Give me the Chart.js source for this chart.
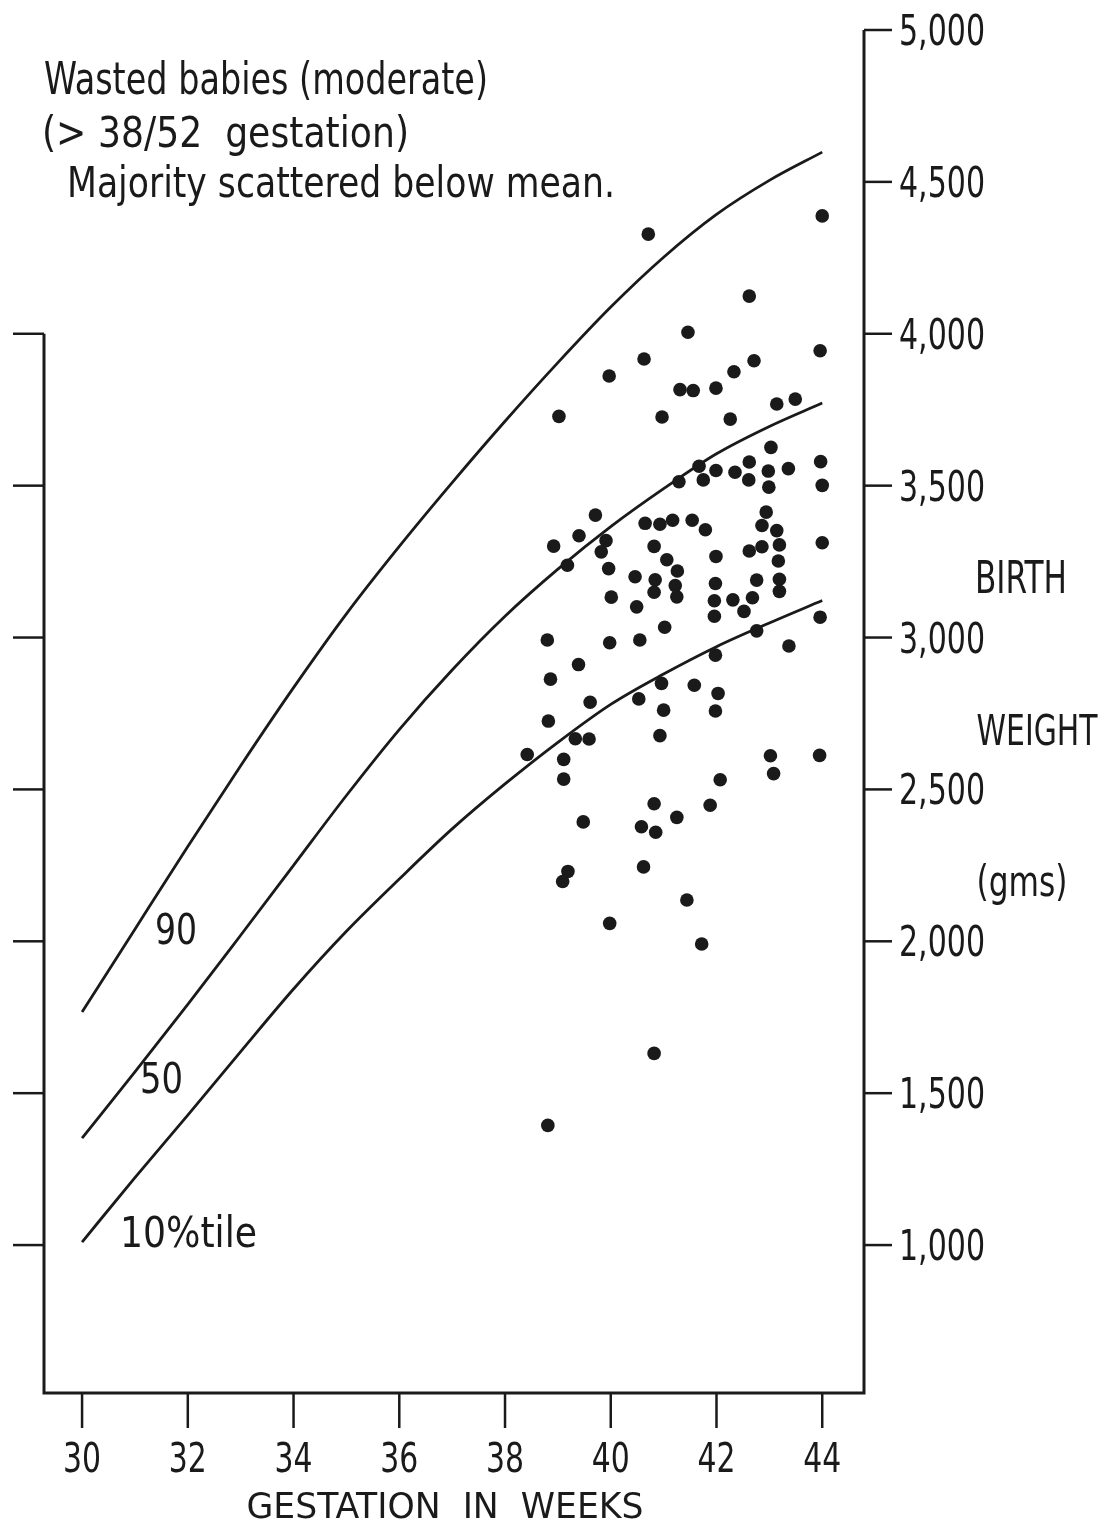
<!DOCTYPE html>
<html>
<head>
<meta charset="utf-8">
<script src="https://cdn.jsdelivr.net/npm/chart.js@4.4.1/dist/chart.umd.min.js"></script>
<style>
  html, body { margin: 0; padding: 0; background: #fff; }
</style>
</head>
<body>
<canvas id="myChart" width="1109" height="1527"></canvas>
<script>
// percentile curves (weeks -> grams)
var curveWeeks = [30, 31, 32, 33, 34, 35, 36, 37, 38, 39, 40, 41, 42, 43, 44];
var p90 = [1767, 2040, 2312, 2578, 2835, 3078, 3300, 3510, 3712, 3905, 4088, 4252, 4393, 4505, 4598];
var p50 = [1352, 1570, 1792, 2020, 2250, 2480, 2697, 2893, 3070, 3225, 3365, 3490, 3605, 3695, 3772];
var p10 = [1010, 1222, 1428, 1637, 1843, 2033, 2205, 2370, 2518, 2655, 2780, 2880, 2970, 3048, 3122];

// wasted babies
var babyWeeks = [
    41.46, 43.96, 40.63, 42.71, 39.97, 42.33, 41.31, 41.56, 41.99, 39.02,
    40.97, 42.26, 43.14, 43.49, 43.03, 42.62, 43.97, 41.67, 41.99, 42.35,
    42.98, 43.36, 41.29, 41.75, 42.61, 42.99, 44.00, 39.71, 39.40, 38.92,
    40.65, 40.93, 41.17, 41.54, 41.79, 42.94, 42.86, 43.14, 39.91, 39.82,
    40.82, 41.06, 41.99, 42.86, 42.62, 43.19, 44.00, 39.18, 39.96, 41.26,
    43.17, 40.46, 40.84, 41.22, 41.98, 42.76, 43.19, 40.82, 41.25, 40.01,
    41.96, 42.31, 42.68, 43.19, 40.49, 42.52, 41.96, 43.96, 41.02, 42.76,
    38.80, 39.98, 40.55, 43.37, 41.98, 39.39, 38.86, 40.96, 41.58, 42.03,
    39.61, 40.53, 41.00, 41.98, 38.82, 39.33, 39.59, 40.93, 38.42, 39.11,
    39.11, 43.02, 43.95, 43.08, 42.07, 40.82, 41.88, 41.25, 39.48, 40.58,
    40.85, 39.19, 39.09, 40.62, 41.44, 39.98, 41.72, 40.82, 38.81, 40.71,
    42.62, 44.00
];
var babyWeights = [
    4005, 3944, 3917, 3911, 3861, 3875, 3816, 3813, 3821, 3728,
    3726, 3719, 3769, 3785, 3626, 3578, 3579, 3564, 3550, 3544,
    3548, 3556, 3513, 3519, 3519, 3495, 3501, 3403, 3335, 3301,
    3376, 3373, 3386, 3386, 3355, 3413, 3369, 3352, 3319, 3282,
    3300, 3256, 3267, 3299, 3285, 3305, 3312, 3238, 3227, 3219,
    3252, 3200, 3190, 3171, 3178, 3189, 3192, 3149, 3134, 3133,
    3121, 3124, 3131, 3152, 3101, 3086, 3070, 3067, 3034, 3022,
    2992, 2983, 2992, 2972, 2942, 2911, 2863, 2849, 2843, 2816,
    2787, 2798, 2761, 2758, 2725, 2667, 2666, 2677, 2615, 2599,
    2534, 2611, 2612, 2552, 2532, 2453, 2448, 2408, 2393, 2377,
    2359, 2230, 2197, 2245, 2136, 2059, 1991, 1631, 1394, 4328,
    4124, 4388
];

var xTicks = [30, 32, 34, 36, 38, 40, 42, 44];
var rightTicks = [1000, 1500, 2000, 2500, 3000, 3500, 4000, 4500, 5000];
var leftTicks = [1000, 1500, 2000, 2500, 3000, 3500, 4000];

var INK = "#1a1a1a";
var FONT = '"Liberation Sans Narrow", "DejaVu Sans Condensed", "Open Sans", sans-serif';

function toPoints(xs, ys) {
    return xs.map(function (x, i) { return { x: x, y: ys[i] }; });
}

// draws text squeezed/stretched to a given width (hand lettering is narrow)
function hand(c, text, x, y, size, width, align) {
    c.font = size + "px " + FONT;
    var w = c.measureText(text).width;
    var sx = width ? width / w : 1;
    c.save();
    c.translate(x, y);
    c.scale(sx, 1);
    c.textAlign = align || "left";
    c.textBaseline = "alphabetic";
    c.fillText(text, 0, 0);
    c.restore();
}

var handAxes = {
    id: "handAxes",
    afterDraw: function (chart) {
        var c = chart.ctx;
        var xs = chart.scales.x;
        var ys = chart.scales.y;
        var left = chart.chartArea.left, right = chart.chartArea.right;
        var bottom = chart.chartArea.bottom, top = chart.chartArea.top;

        c.save();
        c.strokeStyle = INK;
        c.fillStyle = INK;
        c.lineWidth = 3;

        // frame: left axis stops at 4000, right axis runs full height
        c.beginPath();
        c.moveTo(left, ys.getPixelForValue(4000));
        c.lineTo(left, bottom);
        c.lineTo(right, bottom);
        c.lineTo(right, top);
        c.stroke();

        c.lineWidth = 2.5;

        // left ticks, no labels
        leftTicks.forEach(function (v) {
            var y = ys.getPixelForValue(v);
            c.beginPath();
            c.moveTo(left, y);
            c.lineTo(left - 31, y);
            c.stroke();
        });

        // right ticks + labels
        rightTicks.forEach(function (v) {
            var y = ys.getPixelForValue(v);
            c.beginPath();
            c.moveTo(right, y);
            c.lineTo(right + 28, y);
            c.stroke();
            hand(c, v.toLocaleString("en-US"), right + 35, y + 15, 42, 86);
        });

        // bottom ticks + labels
        xTicks.forEach(function (v) {
            var x = xs.getPixelForValue(v);
            c.beginPath();
            c.moveTo(x, bottom);
            c.lineTo(x, bottom + 35);
            c.stroke();
            hand(c, String(v), x, 1472, 40, 38, "center");
        });

        hand(c, "GESTATION  IN  WEEKS", 445, 1518, 36, 397, "center");

        hand(c, "BIRTH", 1021, 593, 45, 92, "center");
        hand(c, "WEIGHT", 1037, 745, 42, 121, "center");
        hand(c, "(gms)", 1022, 896, 42, 91, "center");

        hand(c, "Wasted babies (moderate)", 44, 94, 44, 444);
        hand(c, "(> 38/52  gestation)", 42, 147, 42, 367);
        hand(c, "Majority scattered below mean.", 67, 197, 42, 548);

        hand(c, "90", 155, 944, 42, 42);
        hand(c, "50", 140, 1093, 42, 43);
        hand(c, "10%tile", 120, 1247, 42, 137);

        c.restore();
    }
};

var ctx = document.getElementById("myChart").getContext("2d");

var lineStyle = {
    borderColor: INK,
    borderWidth: 2.8,
    pointRadius: 0,
    showLine: true,
    fill: false,
    cubicInterpolationMode: "monotone",
};

var myChart = new Chart(ctx, {
    type: "scatter",
    data: {
        datasets: [
            Object.assign({ label: "90", data: toPoints(curveWeeks, p90) }, lineStyle),
            Object.assign({ label: "50", data: toPoints(curveWeeks, p50) }, lineStyle),
            Object.assign({ label: "10%tile", data: toPoints(curveWeeks, p10) }, lineStyle),
            {
                label: "Wasted babies",
                data: toPoints(babyWeeks, babyWeights),
                backgroundColor: INK,
                borderColor: INK,
                borderWidth: 0,
                pointRadius: 6.8,
                showLine: false,
            },
        ],
    },
    options: {
        responsive: false,
        maintainAspectRatio: false,
        animation: false,
        layout: { padding: { left: 44, right: 245, top: 30, bottom: 134 } },
        plugins: {
            legend: { display: false },
            tooltip: { enabled: false },
        },
        scales: {
            x: { type: "linear", min: 29.28, max: 44.79, display: false },
            y: { type: "linear", min: 513, max: 5000, display: false },
        },
    },
    plugins: [handAxes],
});
</script>
</body>
</html>
